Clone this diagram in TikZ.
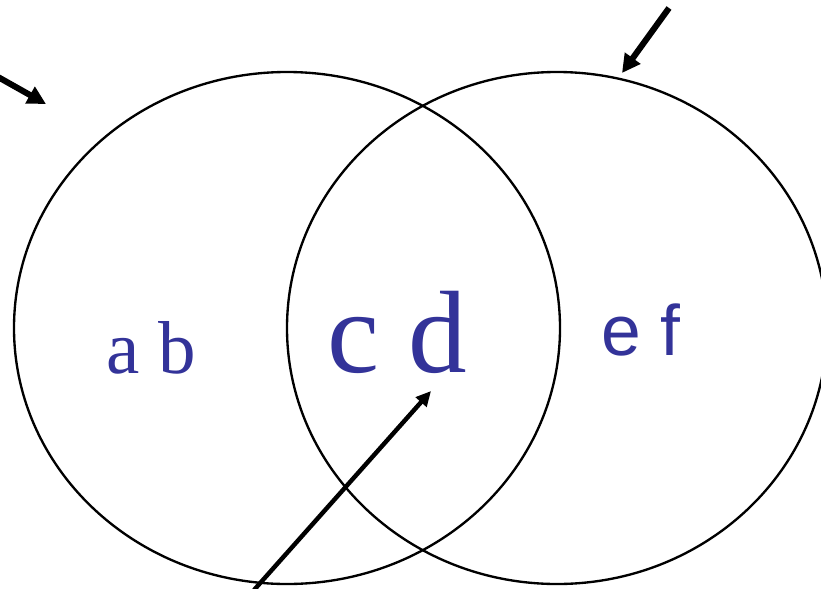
\documentclass[tikz,border=0pt]{standalone}
\usepackage{fontspec}
\setmainfont{Liberation Serif}
\newfontfamily\arialish{Liberation Sans}
\usepackage{xcolor}
\usepackage{tikz}
\usetikzlibrary{arrows.meta}

\definecolor{setblue}{HTML}{333399}

\begin{document}
\begin{tikzpicture}[
  x=0.03cm,y=-0.03cm,
  set/.style={draw,line width=2pt},
  lbl/.style={text=setblue,anchor=base,inner sep=0pt},
  pointer/.style={line width=5.2pt,-{Triangle[length=0.55cm,width=0.55cm]}},
  thinpointer/.style={line width=3.8pt,-{Triangle[length=0.45cm,width=0.42cm]}}
]
\useasboundingbox (0,0) rectangle (821,588);
% ---- the two sets ----
\draw[set] (287,328) ellipse [x radius=273, y radius=256];
\draw[set] (557,328) ellipse [x radius=270, y radius=256];

% ---- the labels ----
\node[lbl] (ab) at (151,373) {\fontsize{64}{70}\selectfont a b};
\node[lbl] (cd) at (397,372) {\fontsize{100}{110}\selectfont c d};
\node[lbl] (ef) at (641,355) {\arialish\fontsize{61}{68}\selectfont e f};

% ---- the pointers ----
\coordinate (lfrom) at (-2,77);   \coordinate (lto) at (46,104);
\coordinate (rfrom) at (669,8);   \coordinate (rto) at (622,73);
\coordinate (bfrom) at (254,590); \coordinate (bto) at (431,391);
\draw[pointer] (lfrom) -- (lto);
\draw[pointer] (rfrom) -- (rto);
\draw[thinpointer] (bfrom) -- (bto);
\end{tikzpicture}
\end{document}
